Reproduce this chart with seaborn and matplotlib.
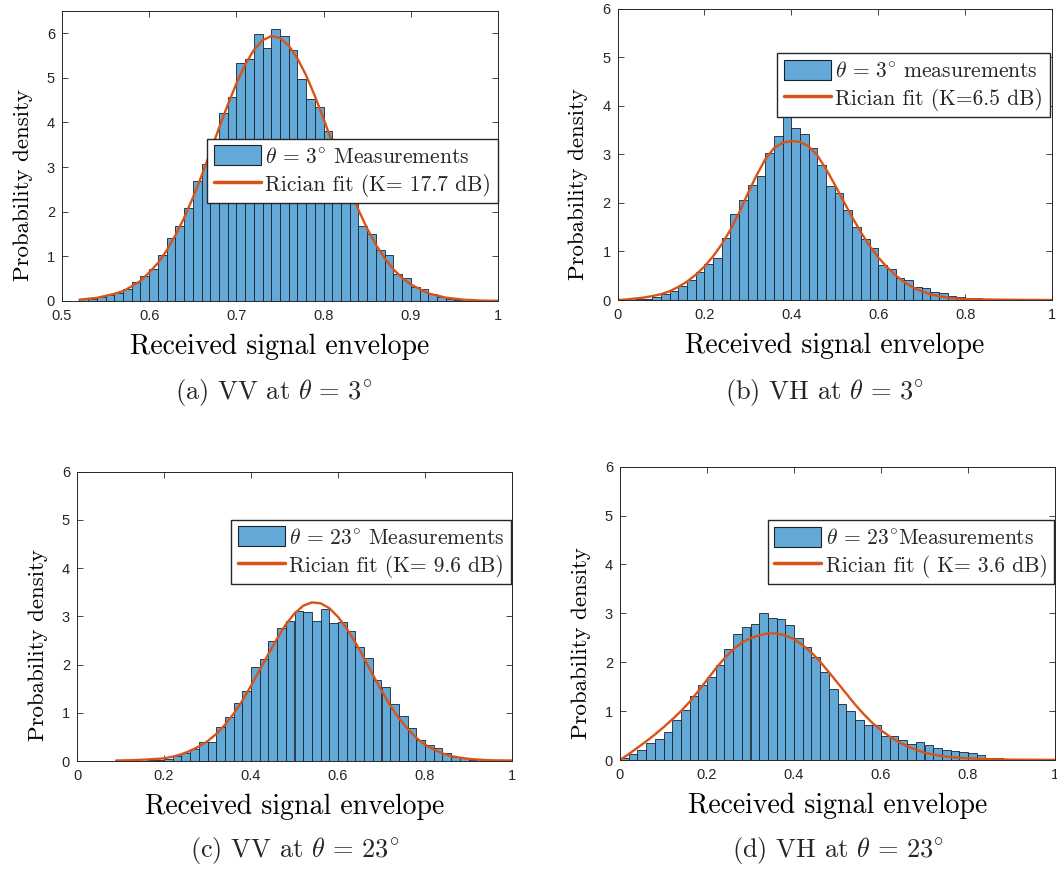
import numpy as np
import pandas as pd
import matplotlib
matplotlib.use("Agg")
import matplotlib.pyplot as plt
import seaborn as sns
from matplotlib.patches import Patch
from matplotlib.lines import Line2D

# ---------------- data ----------------
# (a) VV at 3 deg : bin width 0.01, bins start at 0.52
a_bin_start = 0.52
a_bin_width = 0.01
a_heights = [0.04, 0.05, 0.08, 0.13, 0.17, 0.26, 0.43, 0.57, 0.72, 1.02,
             1.41, 1.68, 2.09, 2.68, 3.06, 3.50, 4.22, 4.56, 5.32, 5.42,
             5.97, 5.66, 6.10, 5.94, 5.63, 4.96, 4.53, 4.35, 3.80, 3.30,
             2.80, 2.25, 1.68, 1.51, 1.14, 1.04, 0.60, 0.52, 0.32, 0.26,
             0.16, 0.10, 0.05, 0.02, 0.01]
a_fit_x = [0.52, 0.54, 0.56, 0.57, 0.58, 0.59, 0.60, 0.61, 0.62, 0.63, 0.64,
           0.65, 0.66, 0.67, 0.68, 0.69, 0.70, 0.71, 0.72, 0.73, 0.74, 0.75,
           0.76, 0.77, 0.78, 0.79, 0.80, 0.81, 0.82, 0.83, 0.84, 0.85, 0.86,
           0.87, 0.88, 0.89, 0.90, 0.92, 0.94, 0.96, 0.98, 1.00]
a_fit_y = [0.03, 0.07, 0.16, 0.22, 0.33, 0.45, 0.64, 0.85, 1.13, 1.47, 1.86,
           2.31, 2.80, 3.33, 3.87, 4.39, 4.87, 5.29, 5.62, 5.84, 5.93, 5.89,
           5.72, 5.43, 5.05, 4.59, 4.08, 3.54, 3.01, 2.50, 2.04, 1.62, 1.26,
           0.96, 0.71, 0.52, 0.37, 0.17, 0.075, 0.03, 0.01, 0.004]

# (b) VH at 3 deg : bin width 0.02, bins start at 0
b_bin_start = 0.0
b_bin_width = 0.02
b_heights = [0.005, 0.01, 0.02, 0.03, 0.06, 0.12, 0.19, 0.28, 0.41, 0.57,
             0.74, 0.87, 1.27, 1.78, 2.06, 2.37, 2.56, 3.04, 3.38, 3.78,
             3.55, 3.42, 3.14, 2.79, 2.36, 2.21, 1.86, 1.51, 1.25, 1.07,
             0.73, 0.63, 0.46, 0.41, 0.27, 0.24, 0.17, 0.14, 0.09, 0.06,
             0.05, 0.04, 0.01, 0.01, 0.005]
b_fit_x = [0.00, 0.02, 0.04, 0.06, 0.08, 0.10, 0.12, 0.14, 0.16, 0.18, 0.20,
           0.22, 0.24, 0.26, 0.28, 0.30, 0.32, 0.34, 0.36, 0.38, 0.40, 0.42,
           0.44, 0.46, 0.48, 0.50, 0.52, 0.54, 0.56, 0.58, 0.60, 0.62, 0.64,
           0.66, 0.68, 0.70, 0.72, 0.74, 0.76, 0.78, 0.80, 0.85, 0.90, 1.00]
b_fit_y = [0.0, 0.01, 0.03, 0.05, 0.08, 0.12, 0.18, 0.27, 0.38, 0.52, 0.69,
           0.90, 1.15, 1.45, 1.80, 2.20, 2.57, 2.90, 3.13, 3.24, 3.28, 3.26,
           3.17, 2.98, 2.70, 2.38, 2.04, 1.71, 1.40, 1.12, 0.88, 0.68, 0.51,
           0.37, 0.26, 0.18, 0.12, 0.08, 0.05, 0.03, 0.02, 0.01, 0.005, 0.0]

# (c) VV at 23 deg : bin width 0.02, bins start at 0.08
c_bin_start = 0.08
c_bin_width = 0.02
c_heights = [0.01, 0.005, 0.01, 0.01, 0.02, 0.02, 0.05, 0.11, 0.17, 0.24,
             0.39, 0.40, 0.71, 0.91, 1.21, 1.46, 1.94, 2.11, 2.48, 2.75,
             2.91, 3.12, 3.08, 2.90, 3.16, 2.86, 2.89, 2.70, 2.37, 2.14,
             1.68, 1.54, 1.18, 0.93, 0.69, 0.43, 0.33, 0.26, 0.16, 0.09,
             0.06, 0.03, 0.01, 0.005]
c_fit_x = [0.09, 0.12, 0.16, 0.20, 0.22, 0.24, 0.26, 0.28, 0.30, 0.32, 0.34,
           0.36, 0.38, 0.40, 0.42, 0.44, 0.46, 0.48, 0.50, 0.52, 0.54, 0.56,
           0.58, 0.60, 0.62, 0.64, 0.66, 0.68, 0.70, 0.72, 0.74, 0.76, 0.78,
           0.80, 0.82, 0.84, 0.86, 0.88, 0.90, 0.92, 0.95, 1.00]
c_fit_y = [0.01, 0.015, 0.03, 0.055, 0.09, 0.14, 0.21, 0.30, 0.41, 0.56, 0.75,
           0.98, 1.25, 1.56, 1.89, 2.22, 2.54, 2.83, 3.06, 3.22, 3.29, 3.27,
           3.17, 2.99, 2.75, 2.46, 2.13, 1.79, 1.46, 1.15, 0.89, 0.67, 0.48,
           0.34, 0.24, 0.16, 0.10, 0.07, 0.045, 0.03, 0.015, 0.01]

# (d) VH at 23 deg : bin width 0.02, bins start at 0
d_bin_start = 0.0
d_bin_width = 0.02
d_heights = [0.05, 0.12, 0.21, 0.35, 0.42, 0.57, 0.82, 1.02, 1.30, 1.53,
             1.70, 1.94, 2.28, 2.57, 2.73, 2.78, 3.00, 2.90, 2.88, 2.77,
             2.50, 2.32, 2.11, 1.79, 1.45, 1.15, 1.01, 0.82, 0.72, 0.72,
             0.50, 0.50, 0.41, 0.32, 0.36, 0.31, 0.25, 0.20, 0.19, 0.16,
             0.14, 0.10, 0.05, 0.05, 0.02, 0.01]
d_fit_x = [0.00, 0.02, 0.04, 0.06, 0.08, 0.10, 0.12, 0.14, 0.16, 0.18, 0.20,
           0.22, 0.24, 0.26, 0.28, 0.30, 0.32, 0.34, 0.36, 0.38, 0.40, 0.42,
           0.44, 0.46, 0.48, 0.50, 0.52, 0.54, 0.56, 0.58, 0.60, 0.62, 0.64,
           0.66, 0.68, 0.70, 0.72, 0.74, 0.76, 0.78, 0.80, 0.85, 0.90, 1.00]
d_fit_y = [0.0, 0.12, 0.25, 0.38, 0.52, 0.67, 0.83, 1.00, 1.19, 1.41, 1.64,
           1.87, 2.08, 2.26, 2.40, 2.49, 2.55, 2.59, 2.59, 2.55, 2.47, 2.35,
           2.20, 2.01, 1.80, 1.58, 1.36, 1.14, 0.94, 0.76, 0.61, 0.48, 0.37,
           0.28, 0.21, 0.15, 0.11, 0.08, 0.06, 0.045, 0.035, 0.015, 0.007, 0.002]

meas_labels = [r"$\theta\,=\,3^{\circ}$ Measurements",
               r"$\theta\,=\,3^{\circ}$ measurements",
               r"$\theta\,=\,23^{\circ}$ Measurements",
               r"$\theta\,=\,23^{\circ}$Measurements"]
fit_labels = ["Rician fit (K= 17.7 dB)", "Rician fit (K=6.5 dB)",
              "Rician fit (K= 9.6 dB)", "Rician fit ( K= 3.6 dB)"]
captions = [r"(a) VV at $\theta\,=\,3^{\circ}$", r"(b) VH at $\theta\,=\,3^{\circ}$",
            r"(c) VV at $\theta\,=\,23^{\circ}$", r"(d) VH at $\theta\,=\,23^{\circ}$"]
x_ticks_a = [0.5, 0.6, 0.7, 0.8, 0.9, 1.0]
x_ticklabels_a = ["0.5", "0.6", "0.7", "0.8", "0.9", "1"]
x_ticks = [0, 0.2, 0.4, 0.6, 0.8, 1.0]
x_ticklabels = ["0", "0.2", "0.4", "0.6", "0.8", "1"]
y_ticks = [0, 1, 2, 3, 4, 5, 6]

# ---------------- style ----------------
sns.set_style("ticks")
plt.rcParams["font.family"] = ["Liberation Sans", "DejaVu Sans"]
plt.rcParams["mathtext.fontset"] = "cm"

BAR_FACE = "#63A9D8"
BAR_EDGE = "#1A232B"
FIT = "#D95319"
AX_COL = "#262626"
SERIF = "cmr10"

W, H = 1057, 871
fig = plt.figure(figsize=(W / 100, H / 100), dpi=100)

def px_axes(left, right, top, bottom):
    return fig.add_axes([left / W, (H - bottom) / H, (right - left) / W, (bottom - top) / H])

panels = [
    dict(box=(62, 498, 10.7, 301), start=a_bin_start, width=a_bin_width, h=a_heights,
         fx=a_fit_x, fy=a_fit_y, xlim=(0.5, 1.0), ylim=(0, 6.5), xt=x_ticks_a, xtl=x_ticklabels_a,
         leg=(0.999, 0.558), cap=(274, 392)),
    dict(box=(617.5, 1052, 9, 300), start=b_bin_start, width=b_bin_width, h=b_heights,
         fx=b_fit_x, fy=b_fit_y, xlim=(0, 1), ylim=(0, 6), xt=x_ticks, xtl=x_ticklabels,
         leg=(0.995, 0.848), cap=(824, 392)),
    dict(box=(77, 512, 471.7, 761), start=c_bin_start, width=c_bin_width, h=c_heights,
         fx=c_fit_x, fy=c_fit_y, xlim=(0, 1), ylim=(0, 6), xt=x_ticks, xtl=x_ticklabels,
         leg=(0.998, 0.833), cap=(295, 850)),
    dict(box=(620, 1055, 466.7, 760), start=d_bin_start, width=d_bin_width, h=d_heights,
         fx=d_fit_x, fy=d_fit_y, xlim=(0, 1), ylim=(0, 6), xt=x_ticks, xtl=x_ticklabels,
         leg=(0.998, 0.818), cap=(838, 850)),
]

for i, p in enumerate(panels):
    ax = px_axes(*p["box"])
    n = len(p["h"])
    edges = [round(p["start"] + k * p["width"], 4) for k in range(n + 1)]
    centers = [round(p["start"] + (k + 0.5) * p["width"], 4) for k in range(n)]
    df = pd.DataFrame({"x": centers, "w": p["h"]})
    sns.histplot(data=df, x="x", weights="w", bins=edges, stat="count", ax=ax,
                 color=BAR_FACE, alpha=1.0, edgecolor=BAR_EDGE, linewidth=0.6)
    fit_df = pd.DataFrame({"x": p["fx"], "y": p["fy"]})
    sns.lineplot(data=fit_df, x="x", y="y", ax=ax, color=FIT, linewidth=1.7,
                 sort=False, estimator=None)

    ax.set_xlim(*p["xlim"])
    ax.set_ylim(*p["ylim"])
    ax.set_xticks(p["xt"])
    ax.set_xticklabels(p["xtl"])
    ax.set_yticks(y_ticks)
    ax.set_yticklabels([str(v) for v in y_ticks])
    ax.tick_params(direction="in", top=True, right=True, length=4, width=0.6,
                   colors=AX_COL, labelsize=10.5)
    ax.tick_params(axis="x", pad=6)
    ax.tick_params(axis="y", pad=5)
    for s in ax.spines.values():
        s.set_visible(True)
        s.set_color(AX_COL)
        s.set_linewidth(0.7)
    ax.set_xlabel("Received signal envelope", fontfamily=SERIF, fontsize=20, labelpad=7.5, color="black")
    ax.set_ylabel("Probability density", fontfamily=SERIF, fontsize=16.5, color="black")
    ax.yaxis.set_label_coords(-0.067, 0.40)

    handles = [Patch(facecolor=BAR_FACE, edgecolor=BAR_EDGE, linewidth=0.8),
               Line2D([0], [0], color=FIT, linewidth=2.5)]
    leg = ax.legend(handles, [meas_labels[i], fit_labels[i]], loc="upper right",
                    bbox_to_anchor=p["leg"], borderaxespad=0.0, fancybox=False,
                    framealpha=1.0, edgecolor=AX_COL, prop={"family": SERIF, "size": 15.5},
                    handlelength=2.2, handleheight=1.05, handletextpad=0.2,
                    borderpad=0.3, labelspacing=0.3)
    leg.get_frame().set_linewidth(1.0)

    fig.text(p["cap"][0] / W, 1 - p["cap"][1] / H, captions[i], ha="center", va="center",
             fontfamily=SERIF, fontsize=19)

fig.savefig("out.png", dpi=100)
